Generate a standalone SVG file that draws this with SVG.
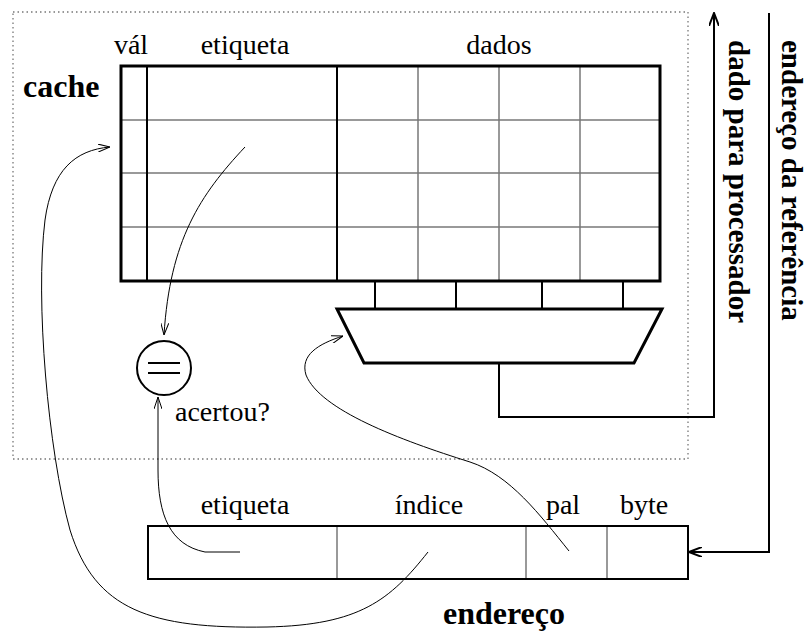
<svg xmlns="http://www.w3.org/2000/svg" width="808" height="635" viewBox="0 0 808 635">
<style>
text{font-family:"Liberation Serif","Times New Roman",serif;fill:#000}
.n{font-size:28px}
.b{font-size:32px;font-weight:bold}
.v{font-size:29px;font-weight:bold}
.thick{fill:none;stroke:#000;stroke-width:3}
.med{fill:none;stroke:#000;stroke-width:2}
.grid{fill:none;stroke:#777;stroke-width:1.5}
.thin{fill:none;stroke:#000;stroke-width:1}
.dot{fill:none;stroke:#777;stroke-width:1.3;stroke-dasharray:1.5 3}
</style>
<defs>
<marker id="a1" viewBox="0 0 12 8" refX="12" refY="4" markerUnits="userSpaceOnUse" markerWidth="12" markerHeight="8" orient="auto"><path d="M0,0 L12,4 L0,8" fill="none" stroke="#000" stroke-width="1"/></marker>
<marker id="a2" viewBox="0 0 14 10" refX="13" refY="5" markerUnits="userSpaceOnUse" markerWidth="14" markerHeight="10" orient="auto"><path d="M0,0 L13,5 L0,10" fill="none" stroke="#000" stroke-width="2"/></marker>
</defs>
<rect width="808" height="635" fill="#fff"/>
<g id="cache-box">
<rect class="dot" x="13" y="12" width="675" height="447"/>
<text class="b" x="23" y="97">cache</text>
</g>
<g id="cache-table">
<line class="grid" x1="121" y1="120" x2="660" y2="120"/>
<line class="grid" x1="121" y1="173" x2="660" y2="173"/>
<line class="grid" x1="121" y1="227" x2="660" y2="227"/>
<line class="grid" x1="418" y1="66" x2="418" y2="281"/>
<line class="grid" x1="499" y1="66" x2="499" y2="281"/>
<line class="grid" x1="580" y1="66" x2="580" y2="281"/>
<line class="med" x1="147" y1="66" x2="147" y2="281"/>
<line class="med" x1="337" y1="66" x2="337" y2="281"/>
<rect class="thick" x="121" y="66" width="539" height="215"/>
<text class="n" x="131" y="54" text-anchor="middle">vál</text>
<text class="n" x="245" y="54" text-anchor="middle">etiqueta</text>
<text class="n" x="499" y="54" text-anchor="middle">dados</text>
</g>
<g id="mux">
<line class="med" x1="375" y1="281" x2="375" y2="309"/>
<line class="med" x1="456" y1="281" x2="456" y2="309"/>
<line class="med" x1="542" y1="281" x2="542" y2="309"/>
<line class="med" x1="623" y1="281" x2="623" y2="309"/>
<polygon class="thick" points="337,309 662,309 634,363 364,363"/>
</g>
<g id="comparator">
<circle class="med" cx="164" cy="368" r="27"/>
<line class="med" x1="148" y1="363" x2="180" y2="363"/>
<line class="med" x1="148" y1="373" x2="180" y2="373"/>
<text class="n" x="175" y="421">acertou?</text>
</g>
<g id="address">
<line class="grid" x1="337" y1="526" x2="337" y2="579"/>
<line class="grid" x1="526" y1="526" x2="526" y2="579"/>
<line class="grid" x1="607" y1="526" x2="607" y2="579"/>
<rect class="med" x="148" y="526" width="540" height="53"/>
<text class="n" x="245" y="514" text-anchor="middle">etiqueta</text>
<text class="n" x="429" y="514" text-anchor="middle">índice</text>
<text class="n" x="563" y="514" text-anchor="middle">pal</text>
<text class="n" x="644" y="514" text-anchor="middle">byte</text>
<text class="b" x="504" y="624" text-anchor="middle">endereço</text>
</g>
<g id="labels">
<text class="v" transform="translate(729,40) rotate(90)">dado para processador</text>
<text class="v" transform="translate(782,40) rotate(90)">endereço da referência</text>
</g>
<g id="connectors">
<path class="med" d="M499 363 V417 H714 V13" marker-end="url(#a2)"/>
<path class="med" d="M769 13 V552 H689" marker-end="url(#a2)"/>
<path class="thin" d="M245 147 C200 195 170 240 164 335" marker-end="url(#a1)"/>
<path class="thin" d="M240 552 L205 552 C170 545 158 515 158 470 L158 397" marker-end="url(#a1)"/>
<path class="thin" d="M428 552 C390 600 360 625 267 627 C150 629 95 610 70 530 C48 450 35 300 45 220 C52 170 75 150 110 147" marker-end="url(#a1)"/>
<path class="thin" d="M569 551 C540 515 510 475 470 462 C400 440 320 410 306 375 C300 355 318 344 343 336" marker-end="url(#a1)"/>
</g>
</svg>
